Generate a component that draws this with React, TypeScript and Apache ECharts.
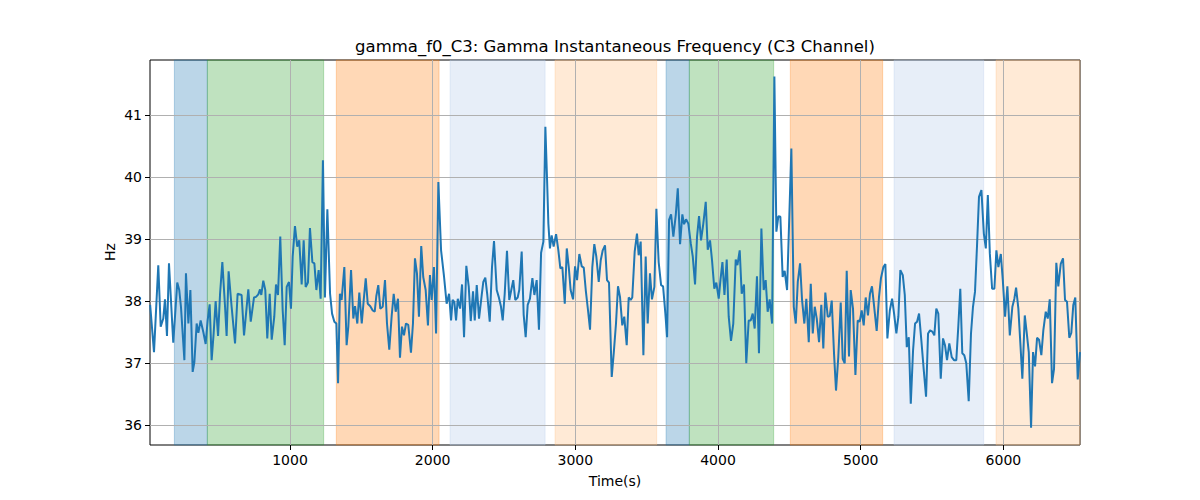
import React, { useEffect, useRef } from "react";
import * as echarts from "echarts";

const TITLE = "gamma_f0_C3: Gamma Instantaneous Frequency (C3 Channel)";
const X_LABEL = "Time(s)";
const Y_LABEL = "Hz";

const xTicks = [1000, 2000, 3000, 4000, 5000, 6000];
const yTicks = [36, 37, 38, 39, 40, 41];

const timeS = [
  20, 47, 77, 94, 112, 124, 138, 152, 182, 210, 224, 236, 260, 271, 288, 302, 318, 330, 346, 358,
  374, 393, 409, 423, 437, 451, 465, 479, 496, 510, 526, 545, 556, 570, 591, 615, 633, 661, 678,
  708, 725, 748, 762, 778, 790, 799, 813, 827, 841, 858, 872, 890, 902, 916, 932, 949, 963, 977,
  993, 1007, 1019, 1035, 1051, 1065, 1082, 1096, 1110, 1126, 1140, 1157, 1171, 1185, 1201, 1215,
  1231, 1245, 1262, 1281, 1295, 1311, 1325, 1337, 1350, 1362, 1381, 1397, 1409, 1428, 1444, 1456,
  1472, 1486, 1503, 1517, 1531, 1545, 1563, 1580, 1594, 1605, 1619, 1633, 1650, 1666, 1680, 1696,
  1713, 1727, 1741, 1757, 1771, 1785, 1799, 1813, 1829, 1848, 1862, 1876, 1890, 1904, 1920, 1934,
  1951, 1967, 1981, 1993, 2009, 2024, 2040, 2059, 2080, 2098, 2115, 2129, 2140, 2152, 2164, 2176,
  2192, 2206, 2220, 2236, 2253, 2267, 2283, 2295, 2309, 2325, 2344, 2355, 2369, 2383, 2400, 2416,
  2430, 2449, 2463, 2479, 2491, 2505, 2521, 2537, 2551, 2565, 2579, 2596, 2607, 2624, 2638, 2652,
  2666, 2682, 2699, 2713, 2729, 2745, 2760, 2776, 2790, 2802, 2811, 2822, 2834, 2848, 2865, 2881,
  2895, 2909, 2926, 2940, 2954, 2967, 2984, 2998, 3012, 3028, 3045, 3059, 3073, 3089, 3103, 3119,
  3133, 3147, 3164, 3178, 3192, 3208, 3222, 3236, 3255, 3269, 3285, 3299, 3313, 3329, 3343, 3360,
  3374, 3388, 3399, 3416, 3432, 3444, 3458, 3477, 3493, 3507, 3523, 3537, 3554, 3568, 3584, 3601,
  3615, 3631, 3643, 3657, 3671, 3687, 3704, 3718, 3734, 3750, 3762, 3776, 3792, 3809, 3823, 3839,
  3853, 3867, 3881, 3897, 3914, 3928, 3944, 3958, 3974, 3988, 4005, 4017, 4031, 4045, 4061, 4075,
  4091, 4107, 4124, 4136, 4152, 4166, 4182, 4198, 4215, 4229, 4243, 4257, 4273, 4287, 4304, 4320,
  4334, 4348, 4362, 4379, 4395, 4409, 4423, 4437, 4453, 4467, 4484, 4514, 4531, 4545, 4559, 4575,
  4589, 4605, 4619, 4636, 4650, 4664, 4678, 4692, 4708, 4724, 4738, 4752, 4769, 4783, 4797, 4813,
  4827, 4843, 4860, 4874, 4888, 4902, 4918, 4930, 4946, 4963, 4979, 4993, 5007, 5021, 5035, 5051,
  5065, 5079, 5093, 5112, 5128, 5142, 5159, 5173, 5187, 5204, 5220, 5234, 5250, 5264, 5278, 5295,
  5309, 5323, 5337, 5351, 5367, 5381, 5395, 5409, 5425, 5442, 5458, 5472, 5486, 5502, 5516, 5530,
  5544, 5561, 5577, 5591, 5605, 5621, 5638, 5654, 5670, 5684, 5698, 5712, 5726, 5740, 5757, 5773,
  5787, 5801, 5815, 5829, 5846, 5863, 5877, 5891, 5905, 5921, 5937, 5951, 5965, 5982, 5996, 6012,
  6028, 6045, 6063, 6077, 6089, 6105, 6119, 6133, 6150, 6164, 6178, 6194, 6208, 6222, 6236, 6250,
  6266, 6280, 6297, 6311, 6325, 6341, 6355, 6371, 6385, 6402, 6418, 6432, 6446, 6462, 6476, 6490,
  6504, 6521, 6537,
];

const hz = [
  37.94, 37.18, 38.58, 37.59, 37.72, 38.03, 37.44, 38.61, 37.33, 38.3, 38.18, 37.91, 37.05, 38.45, 37.64, 38.18, 36.86, 37.02, 37.64, 37.49,
  37.69, 37.5, 37.31, 37.69, 37.95, 37.05, 37.48, 38.0, 37.44, 38.12, 38.63, 37.91, 37.44, 38.48, 37.91, 37.32, 38.12, 38.1, 37.45,
  38.19, 37.67, 38.06, 38.07, 38.11, 38.19, 38.1, 38.33, 38.18, 37.4, 38.12, 37.38, 37.75, 38.27, 38.1, 39.04, 37.85, 37.29, 38.23,
  38.31, 37.88, 38.72, 39.21, 38.88, 38.98, 38.27, 38.98, 38.23, 38.3, 39.18, 38.63, 38.61, 38.18, 38.5, 38.04,
  40.27, 38.06, 39.48, 38.12, 37.8, 37.67, 37.64, 36.68, 38.12, 38.02, 38.55, 37.29, 37.59, 38.5, 37.72, 37.92,
  37.64, 38.14, 37.64, 38.02, 38.37, 37.96, 37.92, 37.85, 37.83, 38.08, 38.26, 37.88, 37.91, 38.34, 37.64, 37.22,
  37.77, 38.12, 37.83, 38.04, 37.09, 37.59, 37.45, 37.64, 37.62, 37.17, 37.64, 38.69, 38.45, 37.75, 38.89, 38.39,
  38.18, 37.61, 38.42, 38.02, 38.55, 37.48, 39.92, 38.82, 38.39, 37.96, 38.12, 37.69, 38.02, 37.99, 37.69, 38.04,
  37.88, 38.27, 37.42, 38.57, 38.23, 37.68, 38.16, 37.69, 38.26, 37.72, 38.1, 38.31, 38.38, 38.1, 37.67, 38.55,
  38.97, 38.18, 38.07, 37.91, 37.69, 38.12, 38.81, 38.02, 38.18, 38.34, 38.02, 38.06, 38.18, 38.8, 37.78, 37.42,
  37.94, 38.04, 38.37, 38.1, 38.34, 37.54, 38.78, 38.96, 40.81, 39.95, 39.25, 38.85, 39.06, 38.88, 39.08, 38.82,
  38.53, 38.55, 37.96, 38.85, 38.55, 38.18, 38.03, 38.56, 38.34, 38.76, 38.56, 38.54, 38.18, 37.85, 37.54, 38.55,
  38.92, 38.72, 38.31, 38.66, 38.82, 38.9, 38.34, 38.3, 36.78, 37.16, 37.64, 38.24, 38.07, 37.61, 37.75, 37.29,
  38.06, 38.02, 38.06, 38.8, 39.09, 38.74, 38.96, 37.13, 38.72, 37.64, 38.45, 38.03, 38.23, 39.49, 38.63, 38.26,
  38.24, 37.8, 37.42, 39.31, 39.4, 39.04, 39.39, 39.82, 38.92, 39.4, 39.24, 39.32, 39.25, 38.93, 38.72, 38.27,
  39.04, 39.37, 38.98, 39.25, 39.6, 38.83, 38.98, 38.66, 38.2, 38.3, 38.04, 38.34, 38.63, 38.1, 38.67, 37.75,
  37.36, 37.64, 38.67, 38.58, 38.82, 38.12, 38.27, 37.0, 37.69, 37.69, 37.8, 37.56, 38.4, 37.16, 39.17, 38.18,
  38.34, 37.83, 38.03, 37.64, 41.62, 39.12, 39.37, 39.36, 38.39, 38.49, 38.18, 40.46, 37.91, 37.64, 38.31, 38.61,
  38.02, 37.64, 38.04, 37.34, 38.28, 37.48, 37.91, 37.72, 37.34, 37.94, 37.24, 38.14, 37.75, 37.76, 38.01, 37.16,
  36.56, 37.1, 37.98, 37.07, 37.0, 38.49, 37.11, 38.18, 37.88, 36.81, 37.69, 37.67, 37.85, 37.61, 38.06, 37.77,
  38.12, 38.24, 37.94, 37.52, 38.06, 38.37, 38.55, 38.6, 37.4, 37.85, 38.04, 37.8, 37.48, 37.75, 38.5, 38.42,
  38.1, 37.26, 37.42, 36.35, 37.21, 37.64, 37.67, 37.8, 37.37, 36.89, 36.46, 37.48, 37.53, 37.51, 37.45, 37.88,
  37.8, 36.75, 37.4, 37.29, 37.05, 37.32, 37.1, 37.05, 37.05, 37.59, 38.2, 37.16, 37.13, 37.0, 36.39, 37.48,
  37.91, 38.15, 38.88, 39.68, 39.79, 39.09, 38.85, 39.71, 38.77, 38.2, 38.2, 38.82, 38.55, 38.76, 38.34, 37.75,
  38.24, 37.45, 37.91, 38.04, 38.22, 37.88, 37.32, 36.75, 37.77, 37.48, 37.18, 35.96, 37.18, 36.95, 37.41, 37.38,
  37.13, 37.53, 37.83, 37.72, 38.03, 36.68, 36.91, 38.62, 38.24, 38.6, 38.69, 38.02, 37.99, 37.41, 37.49, 37.94,
  38.06, 36.74, 37.18,
];

// shaded phases
const bandStart = [190, 421, 1325, 2122, 2858, 3636, 3799, 4507, 5234, 5949];
const bandEnd = [421, 1236, 2045, 2788, 3570, 3799, 4390, 5154, 5862, 6537];
const bandKind = ["blue", "green", "orange", "lightblue", "lightorange", "blue", "green", "orange", "lightblue", "lightorange"];

const kindColor: Record<string, string> = {
  blue: "rgba(31,119,180,0.3)",
  green: "rgba(44,160,44,0.3)",
  orange: "rgba(255,127,14,0.3)",
  lightblue: "rgba(174,199,232,0.3)",
  lightorange: "rgba(255,187,120,0.3)",
};

const FONT = "DejaVu Sans";

export default function App() {
  const ref = useRef<HTMLDivElement>(null);
  useEffect(() => {
    document.body.style.margin = "0";
    if (!ref.current) return;
    const chart = echarts.init(ref.current, undefined, { renderer: "svg" });
    const lineData = timeS.map((t, i) => [t, hz[i]]);
    const areas = bandStart.map((s, i) => [
      {
        xAxis: s,
        itemStyle: { color: kindColor[bandKind[i]], borderColor: kindColor[bandKind[i]], borderWidth: 1 },
      },
      { xAxis: bandEnd[i] },
    ]);
    chart.setOption({
      animation: false,
      backgroundColor: "#ffffff",
      textStyle: { fontFamily: FONT },
      grid: {
        left: 150,
        right: 120,
        top: 60,
        bottom: 55,
        show: true,
        borderColor: "#000",
        borderWidth: 1,
        backgroundColor: "transparent",
      },
      xAxis: {
        type: "value",
        z: 2,
        min: 19,
        max: 6537,
        axisLine: { show: false },
        axisTick: { show: true, customValues: xTicks, length: 5, lineStyle: { color: "#000", width: 1 } },
        axisLabel: {
          customValues: xTicks,
          formatter: (v: number) => String(v),
          color: "#000",
          fontSize: 14,
          fontFamily: FONT,
          margin: 8,
        },
        splitLine: { show: true, lineStyle: { color: "#b0b0b0", width: 1 } },
      },
      yAxis: {
        type: "value",
        z: 2,
        min: 35.683,
        max: 41.886,
        axisLine: { show: false },
        axisTick: { show: true, customValues: yTicks, length: 5, lineStyle: { color: "#000", width: 1 } },
        axisLabel: {
          customValues: yTicks,
          formatter: (v: number) => String(v),
          color: "#000",
          fontSize: 14,
          fontFamily: FONT,
          margin: 8,
        },
        splitLine: { show: true, lineStyle: { color: "#b0b0b0", width: 1 } },
      },
      graphic: [
        {
          type: "text",
          x: 615,
          y: 46,
          style: { text: TITLE, fill: "#000", font: `16.5px "${FONT}"`, textAlign: "center", textVerticalAlign: "middle" },
        },
        {
          type: "text",
          x: 615,
          y: 481,
          style: { text: X_LABEL, fill: "#000", font: `14px "${FONT}"`, textAlign: "center", textVerticalAlign: "middle" },
        },
        {
          type: "text",
          x: 110,
          y: 252,
          rotation: Math.PI / 2,
          style: { text: Y_LABEL, fill: "#000", font: `14px "${FONT}"`, textAlign: "center", textVerticalAlign: "middle" },
        },
      ],
      series: [
        {
          type: "line",
          data: [],
          z: 1,
          silent: true,
          markArea: { silent: true, data: areas },
        },
        {
          type: "line",
          data: lineData,
          z: 3,
          showSymbol: false,
          symbol: "none",
          lineStyle: { color: "#1f77b4", width: 2 },
          itemStyle: { color: "#1f77b4" },
        },
      ],
    });
    return () => chart.dispose();
  }, []);
  return <div ref={ref} style={{ width: 1200, height: 500 }} />;
}
